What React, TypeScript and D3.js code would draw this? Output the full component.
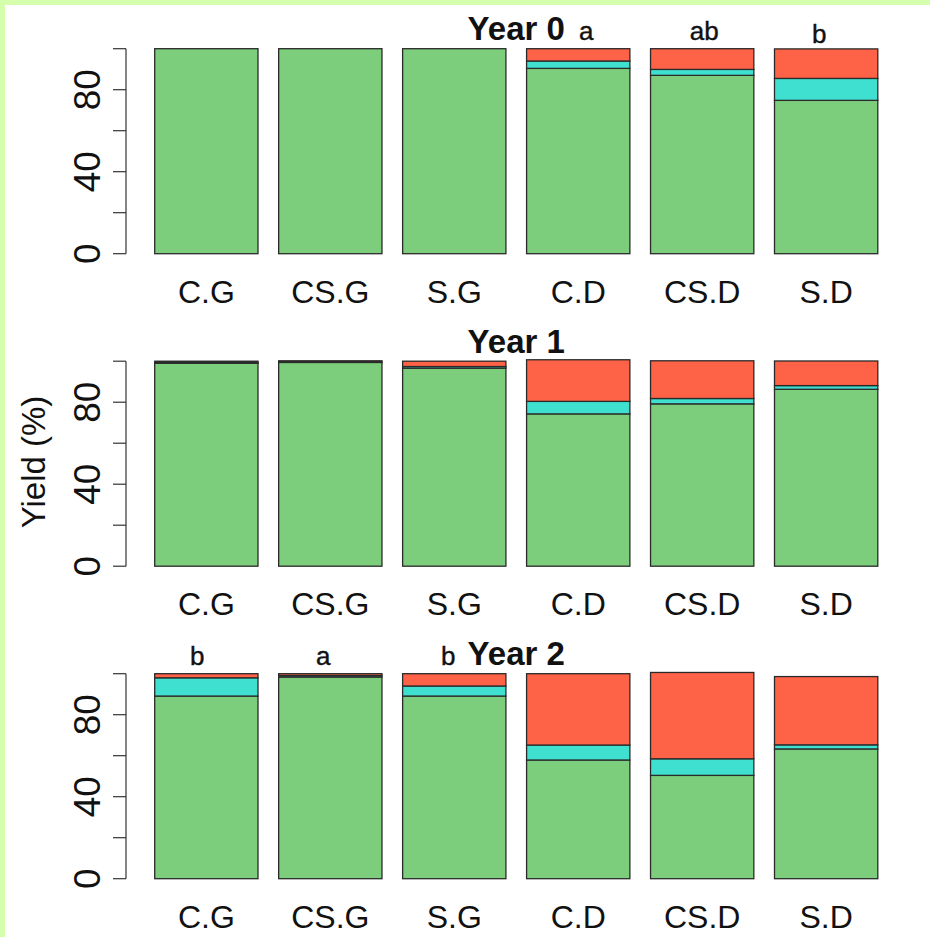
import * as d3 from "d3";

const categories = ["C.G", "CS.G", "S.G", "C.D", "CS.D", "S.D"];
const years = ["Year 0", "Year 1", "Year 2"];

// stacked shares per year: bottom (green), middle (cyan), top (red)
const green0 = [100, 100, 100, 90.4, 87.0, 74.8];
const cyan0 = [0, 0, 0, 3.6, 2.9, 10.7];
const red0 = [0, 0, 0, 6.0, 10.1, 14.4];

const green1 = [99.0, 99.4, 96.6, 74.3, 79.2, 86.3];
const cyan1 = [0.4, 0.3, 0.8, 6.1, 2.6, 1.8];
const red1 = [0.6, 0.5, 2.6, 20.3, 18.4, 12.0];

const green2 = [89.1, 98.4, 89.1, 57.9, 50.4, 63.3];
const cyan2 = [8.9, 0.7, 4.9, 7.3, 8.1, 2.0];
const red2 = [2.0, 0.9, 6.0, 34.8, 42.1, 33.3];

const greens = [green0, green1, green2];
const cyans = [cyan0, cyan1, cyan2];
const reds = [red0, red1, red2];

// significance letters per year (empty = none)
const letters0 = ["", "", "", "a", "ab", "b"];
const letters1 = ["", "", "", "", "", ""];
const letters2 = ["b", "a", "b", "", "", ""];
const letterSets = [letters0, letters1, letters2];
const letterNudge0 = [0, 0, 0, 8, 2, -7];
const letterNudge1 = [0, 0, 0, 0, 0, 0];
const letterNudge2 = [-9, -7, -6, 0, 0, 0];
const letterNudges = [letterNudge0, letterNudge1, letterNudge2];

const yTicks = [0, 20, 40, 60, 80, 100];
const yLabelled = [0, 40, 80];

const COLORS = ["#7CCD7C", "#40E0D0", "#FF6347"];
const STROKE = "#2a2a2a";
const FONT = "'Liberation Sans', Arial, sans-serif";

const W = 930;
const H = 937;
const axisX = 126;
const firstZero = 253.7;
const panelStep = 312.5;
const plotH = 205;

const x = d3.scaleBand<string>().domain(categories).range([154.7, 877.8]).paddingInner(1 / 6).paddingOuter(0);

function Panel({ index }: { index: number }) {
  const zero = firstZero + index * panelStep;
  const y = d3.scaleLinear().domain([0, 100]).range([zero, zero - plotH]);
  const stack = d3.stack<number>().keys(["0", "1", "2"]).value((i, k) => [greens, cyans, reds][+k][index][i]);
  const series = stack(categories.map((_, i) => i));
  const center = (x(categories[0])! + x(categories[5])! + x.bandwidth()) / 2;

  return (
    <g>
      {series.map((s, si) =>
        s.map((d, i) => (
          <rect
            key={`${si}-${i}`}
            x={x(categories[i])}
            y={y(d[1])}
            width={x.bandwidth()}
            height={Math.max(0, y(d[0]) - y(d[1]))}
            fill={COLORS[si]}
            stroke={STROKE}
            strokeWidth={1.3}
          />
        ))
      )}
      {/* y axis */}
      <line x1={axisX} x2={axisX} y1={y(0)} y2={y(100)} stroke="#333" strokeWidth={1.2} />
      {yTicks.map((t) => (
        <line key={t} x1={axisX - 13} x2={axisX} y1={y(t)} y2={y(t)} stroke="#333" strokeWidth={1.2} />
      ))}
      {yLabelled.map((t) => (
        <text
          key={t}
          transform={`translate(100,${y(t)}) rotate(-90)`}
          textAnchor="middle"
          fontSize={37}
          fontFamily={FONT}
          fill="#111"
        >
          {t}
        </text>
      ))}
      {categories.map((c) => (
        <text
          key={c}
          x={x(c)! + x.bandwidth() / 2}
          y={zero + 49}
          textAnchor="middle"
          fontSize={32}
          fontFamily={FONT}
          fill="#111"
        >
          {c}
        </text>
      ))}
      <text
        x={center}
        y={y(100) - 8.5}
        textAnchor="middle"
        fontSize={33}
        fontWeight="bold"
        fontFamily={FONT}
        fill="#111"
      >
        {years[index]}
      </text>
      {letterSets[index].map((l, i) =>
        l ? (
          <text
            key={`l${i}`}
            x={x(categories[i])! + x.bandwidth() / 2 + letterNudges[index][i]}
            y={y(100) - (index === 0 && i === 5 ? 5.5 : 8.5)}
            textAnchor="middle"
            fontSize={26}
            fontFamily={FONT}
            fill="#111"
            stroke="#111"
            strokeWidth={0.4}
          >
            {l}
          </text>
        ) : null
      )}
    </g>
  );
}

export default function App() {
  return (
    <div style={{ position: "absolute", left: 0, top: 0 }}>
      <svg width={W} height={H} style={{ display: "block", background: "#fff" }}>
        <rect x={0} y={0} width={W} height={5} fill="#d6ffad" />
        <rect x={0} y={0} width={5} height={H} fill="#d6ffad" />
        {years.map((_, i) => (
          <Panel key={i} index={i} />
        ))}
        <text
          transform={`translate(45,462) rotate(-90)`}
          textAnchor="middle"
          fontSize={33}
          fontFamily={FONT}
          fill="#111"
        >
          Yield (%)
        </text>
      </svg>
    </div>
  );
}
